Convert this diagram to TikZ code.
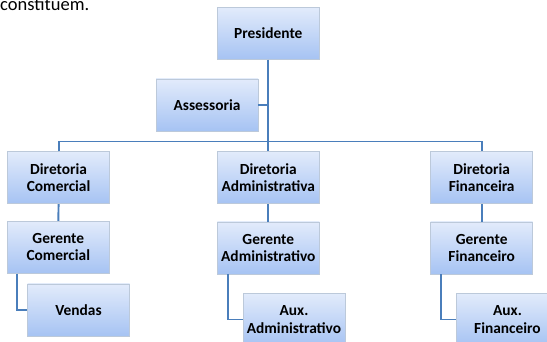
\documentclass[tikz,border=0pt]{standalone}
\usepackage{fontspec}
\setmainfont{Carlito}
\definecolor{linkblue}{HTML}{4A7EBB}
\definecolor{boxtop}{HTML}{E2EBFB}
\definecolor{boxbot}{HTML}{A6C3F3}
\definecolor{boxedge}{HTML}{BCC9DA}
\begin{document}
\begin{tikzpicture}[x=1pt,y=-1pt,
  orgbox/.style={rectangle, draw=boxedge, line width=0.8pt, top color=boxtop, bottom color=boxbot,
    minimum width=102pt, minimum height=52pt, inner sep=0pt, align=center,
    font=\fontsize{15.4}{17.5}\selectfont\bfseries, text=black},
  link/.style={draw=linkblue, line width=1.9pt}]
\useasboundingbox (0,0) rectangle (547,342);
\node[anchor=base west, inner sep=0pt, font=\fontsize{18.5}{22}\selectfont] (intro) at (0,11) {constituem.};
\coordinate (bar) at (268.3,141.5);
\node[orgbox] (pres) at (268.3,33.2) {Presidente};
\node[orgbox] (ass) at (207,105) {Assessoria};
\node[orgbox] (dc) at (58.6,177.7) {Diretoria\\Comercial};
\node[orgbox] (da) at (268.3,177.7) {Diretoria\\Administrativa};
\node[orgbox] (df) at (481.7,177.7) {Diretoria\\Financeira};
\node[orgbox] (gc) at (58.3,247.2) {Gerente\\Comercial};
\node[orgbox] (ga) at (268.3,248) {Gerente\\Administrativo};
\node[orgbox] (gf) at (481.7,248) {Gerente\\Financeiro};
\node[orgbox] (ven) at (78.5,310) {Vendas};
\node[orgbox] (aa) at (294,319.5) {Aux.\\Administrativo};
\node[orgbox] (af) at (507.5,319.5) {Aux.\\Financeiro};
\draw[link] (pres.south) -- (bar);
\draw[link] (ass.east) -- (ass.east -| pres.south);
\draw[link] (dc.north) |- (bar) -| (df.north);
\draw[link] (bar) -- (da.north);
\draw[link] (dc.south) -- (gc.north);
\draw[link] (da.south) -- (ga.north);
\draw[link] (df.south) -- (gf.north);
\draw[link] ([xshift=10.3pt]gc.south west) |- (ven.west);
\draw[link] ([xshift=10.8pt]ga.south west) |- (aa.west);
\draw[link] ([xshift=10.3pt]gf.south west) |- (af.west);
\end{tikzpicture}
\end{document}
